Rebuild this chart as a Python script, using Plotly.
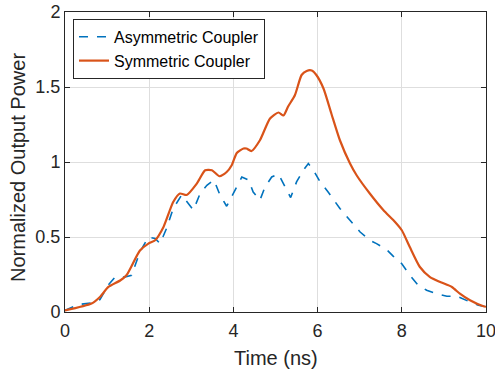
import plotly.graph_objects as go

t_sym = [0, 0.63, 0.83, 1.03, 1.31, 1.46, 1.78, 1.98, 2.14, 2.34, 2.57, 2.73, 2.89, 3.13, 3.33, 3.49,
         3.67, 3.84, 3.96, 4.08, 4.24, 4.31, 4.43, 4.63, 4.87, 5.07, 5.19, 5.30, 5.46, 5.62, 5.74, 5.86,
         5.97, 6.14, 6.33, 6.53, 6.77, 6.93, 7.24, 7.56, 7.84, 8.0, 8.19, 8.43, 8.67, 8.91, 9.19, 9.38,
         9.62, 9.94, 10]
p_sym = [0.01, 0.056, 0.10, 0.167, 0.21, 0.245, 0.41, 0.456, 0.478, 0.567, 0.733, 0.79, 0.78, 0.856, 0.945, 0.945,
         0.905, 0.933, 0.978, 1.06, 1.09, 1.09, 1.073, 1.145, 1.29, 1.33, 1.31, 1.37, 1.445, 1.58, 1.607, 1.61,
         1.58, 1.49, 1.32, 1.145, 0.99, 0.91, 0.79, 0.68, 0.60, 0.545, 0.433, 0.30, 0.233, 0.20, 0.167, 0.122,
         0.078, 0.038, 0.035]

t_asym = [0, 0.32, 0.63, 0.83, 1.03, 1.19, 1.43, 1.58, 1.78, 1.98, 2.14, 2.26, 2.41, 2.57, 2.77, 2.93,
          3.05, 3.21, 3.37, 3.54, 3.68, 3.84, 4.0, 4.20, 4.36, 4.47, 4.63, 4.75, 4.91, 5.07, 5.23, 5.36,
          5.50, 5.66, 5.78, 5.90, 6.06, 6.25, 6.53, 6.77, 7.01, 7.24, 7.40, 7.64, 7.80, 8.0, 8.19, 8.39,
          8.59, 8.83, 9.07, 9.31, 9.46, 9.62, 9.82, 10]
p_asym = [0.01, 0.05, 0.06, 0.083, 0.18, 0.233, 0.233, 0.245, 0.40, 0.50, 0.49, 0.456, 0.556, 0.69, 0.78, 0.72,
          0.68, 0.79, 0.845, 0.88, 0.78, 0.705, 0.79, 0.90, 0.88, 0.80, 0.745, 0.833, 0.90, 0.92, 0.833, 0.763,
          0.867, 0.945, 0.99, 0.945, 0.867, 0.80, 0.69, 0.61, 0.533, 0.478, 0.456, 0.416, 0.371, 0.322, 0.245, 0.178,
          0.145, 0.122, 0.105, 0.105, 0.089, 0.067, 0.045, 0.035]

x_ticks = [0, 2, 4, 6, 8, 10]
y_ticks = [0, 0.5, 1, 1.5, 2]
y_labels = ["0", "0.5", "1", "1.5", "2"]
x_title = "Time (ns)"
y_title = "Normalized Output Power"

fig = go.Figure()
fig.add_trace(go.Scatter(x=t_asym, y=p_asym, mode="lines", name="Asymmetric Coupler",
                         line=dict(color="#0072BD", width=1.6, dash="dash")))
fig.add_trace(go.Scatter(x=t_sym, y=p_sym, mode="lines", name="Symmetric Coupler",
                         line=dict(color="#D95319", width=2.2, shape="spline", smoothing=0.6)))

font = "Liberation Sans, Arial, sans-serif"
txt = "#262626"
axis_common = dict(showline=True, linecolor=txt, linewidth=1, mirror="ticks",
                   ticks="inside", ticklen=5, tickcolor=txt, automargin=False,
                   ticklabeloverflow="allow",
                   showgrid=True, gridcolor="#dedede", gridwidth=1, zeroline=False,
                   tickfont=dict(family=font, size=18, color=txt))
fig.update_layout(
    width=495, height=375,
    margin=dict(l=65, r=9, t=12, b=63, autoexpand=False),
    paper_bgcolor="white", plot_bgcolor="white",
    font=dict(family=font, color=txt),
    xaxis=dict(range=[0, 10], tickvals=x_ticks, ticklabelstandoff=2, **axis_common),
    yaxis=dict(range=[0, 2], tickvals=y_ticks, ticktext=y_labels, **axis_common),
    legend=dict(x=0.019, y=0.977, xanchor="left", yanchor="top",
                bgcolor="white", bordercolor=txt, borderwidth=1,
                font=dict(family=font, size=16, color="#000000"),
                tracegroupgap=0, itemwidth=30),
    showlegend=True,
    annotations=[
        dict(text=x_title, xref="paper", yref="paper", x=0.5, y=-0.153, xanchor="center", yanchor="middle",
             showarrow=False, font=dict(family=font, size=20, color=txt)),
        dict(text=y_title, xref="paper", yref="paper", x=-0.112, y=0.483, xanchor="center", yanchor="middle",
             textangle=-90, showarrow=False, font=dict(family=font, size=20, color=txt)),
    ],
)
fig.write_html("out.html")
